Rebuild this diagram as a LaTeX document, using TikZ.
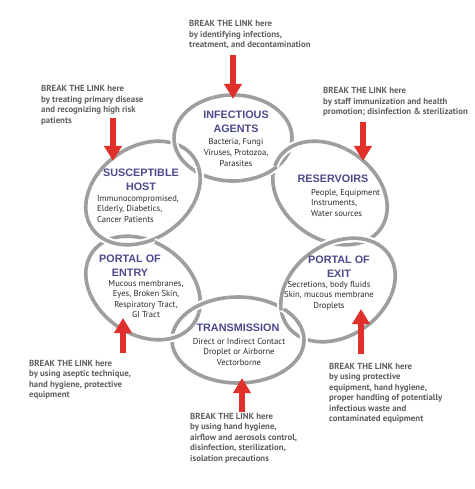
\documentclass[tikz,border=0pt]{standalone}
\usepackage{fontspec}
\setmainfont{PT Sans}
\newfontfamily\titlefont{Liberation Sans}
\usetikzlibrary{arrows.meta,calc}
\definecolor{ring}{HTML}{9E9E9E}
\definecolor{linkred}{HTML}{E0302B}
\definecolor{titleblue}{HTML}{4A4A8C}
\definecolor{notegray}{HTML}{5E5E5E}
\definecolor{bodytext}{HTML}{2A2A2A}
\begin{document}
\begin{tikzpicture}[x=1pt,y=-1pt]
\useasboundingbox (0,0) rectangle (474,489);
\tikzset{
 linkring/.style={draw=ring, line width=3.6pt},
 halo/.style={draw=white, line width=7.5pt},
 title/.style={font=\titlefont\bfseries\fontsize{10.8}{14}\selectfont, text=titleblue, align=center, inner sep=0, anchor=base},
 body/.style={font=\fontsize{8.6}{10.5}\selectfont, text=bodytext, align=center, inner sep=0, anchor=base},
 note/.style={font=\bfseries\fontsize{8.8}{10.5}\selectfont, text=notegray, align=left, inner sep=0, anchor=base west},
 breakarrow/.style={draw=linkred, line width=5.5pt, -{Triangle[width=17pt,length=15pt]}},
 ringA/.style={shift={(233,138)}, rotate=0, x radius=59, y radius=43},
 ringB/.style={shift={(330,193)}, rotate=-35, x radius=62, y radius=46},
 ringC/.style={shift={(338,290)}, rotate=35, x radius=62, y radius=46},
 ringD/.style={shift={(238,340)}, rotate=0, x radius=66, y radius=43},
 ringE/.style={shift={(143,288)}, rotate=-35, x radius=62, y radius=46},
 ringF/.style={shift={(143,193)}, rotate=35, x radius=62, y radius=46},
}
\coordinate (rc) at (237.5,240);
% rings
\foreach \R in {ringA,ringB,ringC,ringD,ringE,ringF}{
  \draw[halo,\R] (0,0) ellipse;
  \draw[linkring,\R] (0,0) ellipse;
}
% interlocking: later ring over at the outer crossing, earlier ring over at the inner one
\foreach \m/\A/\B in {-60/ringA/ringB, 0/ringB/ringC, 60/ringC/ringD, 120/ringD/ringE, 180/ringE/ringF, 240/ringF/ringA}{
  \begin{scope}
    \clip ([shift={(\m-20:88)}]rc) -- ([shift={(\m-20:260)}]rc) -- ([shift={(\m+20:260)}]rc) -- ([shift={(\m+20:88)}]rc) -- cycle;
    \draw[halo,\B] (0,0) ellipse;
    \draw[linkring,\B] (0,0) ellipse;
  \end{scope}
  \begin{scope}
    \clip (rc) -- ([shift={(\m-20:88)}]rc) -- ([shift={(\m+20:88)}]rc) -- cycle;
    \draw[halo,\A] (0,0) ellipse;
    \draw[linkring,\A] (0,0) ellipse;
  \end{scope}
}
% titles and body texts (anchor = baseline of last line)
\node[title] (agentsT) at (236,133) {INFECTIOUS\\AGENTS};
\node[body] (agentsB) at (236,166) {Bacteria, Fungi\\Viruses, Protozoa,\\Parasites};
\node[title] (hostT) at (141,190) {SUSCEPTIBLE\\HOST};
\node[body, align=left, anchor=base west] (hostB) at (97,222) {Immunocompromised,\\Elderly, Diabetics,\\Cancer Patients};
\node[title] (resT) at (333,182) {RESERVOIRS};
\node[body, align=left, anchor=base west] (resB) at (311,216) {People, Equipment\\Instruments,\\Water sources};
\node[title] (entryT) at (130,276) {PORTAL OF\\ENTRY};
\node[body] (entryB) at (146,317.5) {Mucous membranes,\\Eyes, Broken Skin,\\Respiratory Tract,\\GI Tract};
\node[title] (exitT) at (339,277) {PORTAL OF\\EXIT};
\node[body] (exitB) at (329,308) {Secretions, body fluids\\Skin, mucous membrane\\Droplets};
\node[title] (transT) at (238,331) {TRANSMISSION};
\node[body] (transB) at (239,365) {Direct or Indirect Contact\\Droplet or Airborne\\Vectorborne};
% notes
\node[note] (noteTop) at (189,48) {BREAK THE LINK here\\by identifying infections,\\treatment, and decontamination};
\node[note] (noteLT) at (41,123.5) {BREAK THE LINK here\\by treating primary disease\\and recognizing high risk\\patients};
\node[note] (noteRT) at (323,115) {BREAK THE LINK here\\by staff immunization and health\\promotion; disinfection \& sterilization};
\node[note] (noteLB) at (29,397.5) {BREAK THE LINK here\\by using aseptic technique,\\hand hygiene, protective\\equipment};
\node[note] (noteRB) at (329,421.5) {BREAK THE LINK here\\by using protective\\equipment, hand hygiene,\\proper handling of potentially\\infectious waste and\\contaminated equipment};
\node[note] (noteB) at (190,461) {BREAK THE LINK here\\by using hand hygiene,\\airflow and aerosols control,\\disinfection, sterilization,\\isolation precautions};
% arrows
\coordinate (aTopS) at (233,55);  \coordinate (aTopE) at (233,99);
\coordinate (aLTS) at (113,118);  \coordinate (aLTE) at (113,161);
\coordinate (aRTS) at (363,122);  \coordinate (aRTE) at (363,161);
\coordinate (aLBS) at (123,353);  \coordinate (aLBE) at (123,318);
\coordinate (aRBS) at (361,354);  \coordinate (aRBE) at (361,309);
\coordinate (aBS) at (242,412);   \coordinate (aBE) at (242,378);
\draw[breakarrow] (aTopS) -- (aTopE);
\draw[breakarrow] (aLTS) -- (aLTE);
\draw[breakarrow] (aRTS) -- (aRTE);
\draw[breakarrow] (aLBS) -- (aLBE);
\draw[breakarrow] (aRBS) -- (aRBE);
\draw[breakarrow] (aBS) -- (aBE);
\end{tikzpicture}
\end{document}
